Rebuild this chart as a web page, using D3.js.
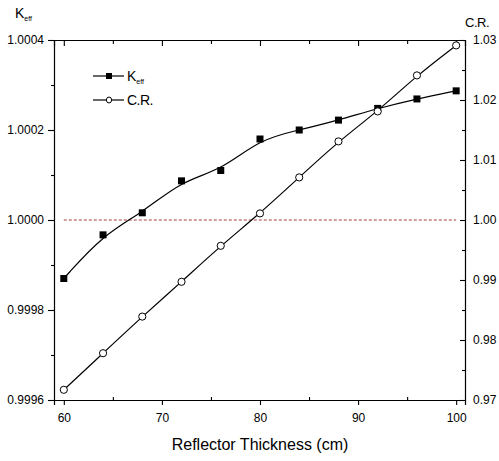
<!DOCTYPE html>
<html><head><meta charset="utf-8">
<script src="https://cdn.jsdelivr.net/npm/d3@7/dist/d3.min.js"></script>
<style>
html,body{margin:0;padding:0;background:#fff;}
svg{display:block;font-family:Arial,"Liberation Sans",sans-serif;}
</style></head>
<body>
<svg id="c" width="499" height="461"></svg>
<script>
const thickness = [60,64,68,72,76,80,84,88,92,96,100];
const keff = [0.99987,0.999967,1.000016,1.000087,1.00011,1.00018,1.0002,1.000222,1.000248,1.000269,1.000287];
const cr = [0.9717,0.9778,0.9839,0.9897,0.9957,1.0011,1.0071,1.0131,1.0181,1.0241,1.0291];
const xMajorTicks = [60,70,80,90,100];
const xMinorTicks = [65,75,85,95];
const leftMajorTicks = [0.9996,0.9998,1.0000,1.0002,1.0004];
const leftMinorTicks = [0.9997,0.9999,1.0001,1.0003];
const rightMajorTicks = [0.97,0.98,0.99,1.00,1.01,1.02,1.03];
const rightMinorTicks = [0.975,0.985,0.995,1.005,1.015,1.025];
const refLine = 1.0000;

const svg = d3.select("#c");
const L=54, R=465, T=40, B=400;
const x = d3.scaleLinear().domain([59,100.9]).range([L,R]);
const yL = d3.scaleLinear().domain([0.9996,1.0004]).range([B,T]);
const yR = d3.scaleLinear().domain([0.97,1.03]).range([B,T]);

function styleAxis(g){
  g.selectAll("path").attr("stroke","#000").attr("stroke-width",1.2);
  g.selectAll("line").attr("stroke","#000").attr("stroke-width",1.1);
  g.selectAll("text").attr("fill","#000").style("font-size","12px").style("font-family","Arial, 'Liberation Sans', sans-serif");
}
// bottom
svg.append("g").attr("transform",`translate(0,${B})`)
  .call(d3.axisBottom(x).tickValues(xMajorTicks).tickSize(5).tickPadding(8).tickFormat(d3.format("d")))
  .call(styleAxis);
svg.append("g").attr("transform",`translate(0,${B})`)
  .call(d3.axisBottom(x).tickValues(xMinorTicks).tickSize(-3).tickFormat(""))
  .call(styleAxis).call(g=>g.select("path").remove());
// top
svg.append("g").attr("transform",`translate(0,${T})`)
  .call(d3.axisTop(x).tickValues(xMajorTicks).tickSize(-6).tickFormat(""))
  .call(styleAxis);
svg.append("g").attr("transform",`translate(0,${T})`)
  .call(d3.axisTop(x).tickValues(xMinorTicks).tickSize(-4).tickFormat(""))
  .call(styleAxis).call(g=>g.select("path").remove());
// left
svg.append("g").attr("transform",`translate(${L},0)`)
  .call(d3.axisLeft(yL).tickValues(leftMajorTicks).tickSize(6).tickPadding(4).tickFormat(d3.format(".4f")))
  .call(styleAxis);
svg.append("g").attr("transform",`translate(${L},0)`)
  .call(d3.axisLeft(yL).tickValues(leftMinorTicks).tickSize(3).tickFormat(""))
  .call(styleAxis).call(g=>g.select("path").remove());
// right
svg.append("g").attr("transform",`translate(${R},0)`)
  .call(d3.axisRight(yR).tickValues(rightMajorTicks).tickSizeInner(-5).tickSizeOuter(0).tickPadding(8).tickFormat(d3.format(".2f")))
  .call(styleAxis);
svg.append("g").attr("transform",`translate(${R},0)`)
  .call(d3.axisRight(yR).tickValues(rightMinorTicks).tickSize(-3).tickFormat(""))
  .call(styleAxis).call(g=>g.select("path").remove());

// reference dashed line
svg.append("line")
  .attr("x1",x(thickness[0])).attr("x2",x(thickness[thickness.length-1]))
  .attr("y1",yL(refLine)).attr("y2",yL(refLine))
  .attr("stroke","#a8403a").attr("stroke-width",1).attr("stroke-dasharray","3,2");

const pts = thickness.map((t,i)=>({t,k:keff[i],c:cr[i]}));
const lineK = d3.line().x(d=>x(d.t)).y(d=>yL(d.k)).curve(d3.curveBasis);
const lineC = d3.line().x(d=>x(d.t)).y(d=>yR(d.c)).curve(d3.curveBasis);
svg.append("path").datum(pts).attr("d",lineK).attr("fill","none").attr("stroke","#000").attr("stroke-width",1.2);
svg.append("path").datum(pts).attr("d",lineC).attr("fill","none").attr("stroke","#000").attr("stroke-width",1.2);

const sq = 7;
svg.append("g").selectAll("rect").data(pts).join("rect")
  .attr("x",d=>x(d.t)-sq/2).attr("y",d=>yL(d.k)-sq/2).attr("width",sq).attr("height",sq).attr("fill","#000");
svg.append("g").selectAll("circle").data(pts).join("circle")
  .attr("cx",d=>x(d.t)).attr("cy",d=>yR(d.c)).attr("r",3.6)
  .attr("fill","#fff").attr("stroke","#000").attr("stroke-width",1);

// legend
const lg = svg.append("g");
lg.append("line").attr("x1",93).attr("x2",124).attr("y1",76).attr("y2",76).attr("stroke","#000").attr("stroke-width",1.2);
lg.append("rect").attr("x",109-3).attr("y",76-3).attr("width",6).attr("height",6).attr("fill","#000");
const t1 = lg.append("text").attr("x",127).attr("y",81).style("font-size","14px");
t1.append("tspan").text("K");
t1.append("tspan").attr("dy",3).style("font-size","7px").text("eff");
lg.append("line").attr("x1",93).attr("x2",124).attr("y1",100).attr("y2",100).attr("stroke","#000").attr("stroke-width",1.2);
lg.append("ellipse").attr("cx",109).attr("cy",100).attr("rx",2.6).attr("ry",3).attr("fill","#fff").attr("stroke","#000").attr("stroke-width",1);
lg.append("text").attr("x",127).attr("y",105).style("font-size","14px").style("letter-spacing","-0.5px").text("C.R.");

// axis titles
const tk = svg.append("text").attr("x",15).attr("y",18).style("font-size","14px");
tk.append("tspan").text("K");
tk.append("tspan").attr("dy",3).style("font-size","7px").text("eff");
svg.append("text").attr("x",465).attr("y",27).style("font-size","13px").style("letter-spacing","-0.5px").text("C.R.");
svg.append("text").attr("x",260).attr("y",450).attr("text-anchor","middle").style("font-size","16px").text("Reflector Thickness (cm)");
</script>
</body></html>
